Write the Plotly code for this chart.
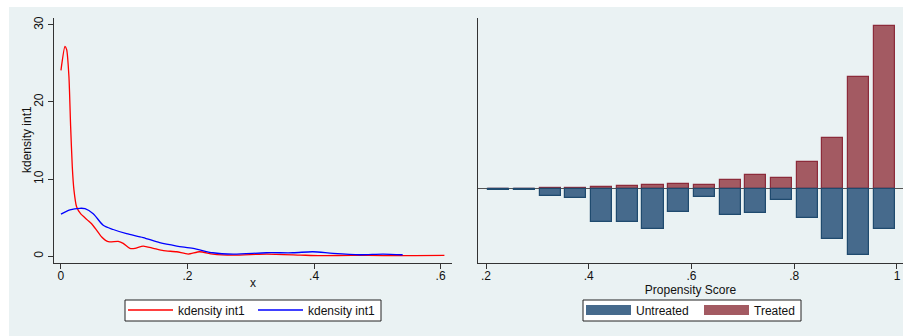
import plotly.graph_objects as go

# ---- Left panel: kernel density curves ----
red_x = [0.0, 0.0063, 0.009, 0.0126, 0.0153, 0.0179, 0.0205, 0.0247, 0.031, 0.0416, 0.0484,
         0.056, 0.064, 0.0747, 0.0905, 0.0984, 0.109, 0.117, 0.130, 0.146, 0.162, 0.183,
         0.201, 0.219, 0.24, 0.272, 0.325, 0.378, 0.41, 0.46, 0.51, 0.56, 0.606]
red_y = [24.1, 27.2, 26.8, 23.3, 16.8, 11.6, 8.6, 6.4, 5.5, 4.7, 4.2,
         3.4, 2.5, 1.86, 1.9, 1.65, 1.0, 1.0, 1.3, 1.0, 0.7, 0.56,
         0.26, 0.56, 0.26, 0.13, 0.26, 0.13, 0.05, 0.1, 0.05, 0.05, 0.1]

blue_x = [0.0, 0.0142, 0.03, 0.038, 0.051, 0.0668, 0.0826, 0.1037, 0.130, 0.156, 0.183,
          0.209, 0.24, 0.272, 0.325, 0.367, 0.398, 0.43, 0.472, 0.509, 0.54]
blue_y = [5.45, 6.0, 6.2, 6.15, 5.5, 4.0, 3.45, 2.9, 2.4, 1.73, 1.3,
          1.0, 0.43, 0.26, 0.43, 0.43, 0.56, 0.35, 0.17, 0.26, 0.17]

left_xticks = [0, 0.2, 0.4, 0.6]
left_xtick_labels = ["0", ".2", ".4", ".6"]
left_yticks = [0, 10, 20, 30]
left_ytick_labels = ["0", "10", "20", "30"]

# ---- Right panel: mirrored propensity score histogram ----
bin_centers = [0.225, 0.275, 0.325, 0.375, 0.425, 0.475, 0.525, 0.575,
               0.625, 0.675, 0.725, 0.775, 0.825, 0.875, 0.925, 0.975]
treated = [0.0, 0.0, 0.013, 0.013, 0.031, 0.05, 0.068, 0.087,
           0.068, 0.16, 0.252, 0.197, 0.49, 0.93, 2.07, 3.0]
untreated = [-0.018, -0.018, -0.12, -0.16, -0.60, -0.60, -0.74, -0.43,
             -0.14, -0.47, -0.45, -0.20, -0.53, -0.92, -1.22, -0.74]

right_xticks = [0.2, 0.4, 0.6, 0.8, 1.0]
right_xtick_labels = [".2", ".4", ".6", ".8", "1"]

W, H = 903, 336
FONT = "Liberation Sans, Arial, sans-serif"
BG = "#eaf2f3"
AX = "#333333"
TREAT_FILL = "#a35a62"
TREAT_LINE = "#8c2b3a"
UNTR_FILL = "#466a8c"
UNTR_LINE = "#1f4a6e"

def px_x(p):
    return p / W

def px_y(p):
    return 1 - p / H

fig = go.Figure()

fig.add_trace(go.Scatter(x=red_x, y=red_y, mode="lines", name="kdensity int1",
                         line=dict(color="#ff0000", width=1.3, shape="spline", smoothing=0.6),
                         xaxis="x", yaxis="y", legend="legend"))
fig.add_trace(go.Scatter(x=blue_x, y=blue_y, mode="lines", name="kdensity int1",
                         line=dict(color="#0000ff", width=1.3, shape="spline", smoothing=0.8),
                         xaxis="x", yaxis="y", legend="legend"))

fig.add_trace(go.Bar(x=bin_centers, y=treated, width=0.041, name="Treated",
                     marker=dict(color=TREAT_FILL, line=dict(color=TREAT_LINE, width=1.2)),
                     xaxis="x2", yaxis="y2", showlegend=False))
fig.add_trace(go.Bar(x=bin_centers, y=untreated, width=0.041, name="Untreated",
                     marker=dict(color=UNTR_FILL, line=dict(color=UNTR_LINE, width=1.2)),
                     xaxis="x2", yaxis="y2", showlegend=False))
# legend keys for bars (wide swatches)
fig.add_trace(go.Scatter(x=[None], y=[None], mode="lines", name="Untreated",
                         line=dict(color=UNTR_FILL, width=10),
                         xaxis="x2", yaxis="y2", legend="legend2"))
fig.add_trace(go.Scatter(x=[None], y=[None], mode="lines", name="Treated",
                         line=dict(color=TREAT_FILL, width=10),
                         xaxis="x2", yaxis="y2", legend="legend2"))

axis_common = dict(showline=True, linecolor=AX, linewidth=1, ticks="outside",
                   ticklen=5, tickcolor=AX, tickfont=dict(family=FONT, size=12, color="#111"),
                   zeroline=False, mirror=False, automargin=False)

legend_common = dict(orientation="h", xanchor="left", yanchor="top",
                     bgcolor="rgba(0,0,0,0)", borderwidth=0,
                     font=dict(family=FONT, size=12, color="#111"), itemwidth=45,
                     tracegroupgap=0)

fig.update_layout(
    width=W, height=H,
    margin=dict(l=0, r=0, t=0, b=0, autoexpand=False),
    paper_bgcolor="white",
    plot_bgcolor="white",
    font=dict(family=FONT, size=12, color="#111"),
    barmode="relative",
    bargap=0,
    xaxis=dict(domain=[px_x(54), px_x(452)], range=[-0.011, 0.618], anchor="y",
               tickvals=left_xticks, ticktext=left_xtick_labels, showgrid=False,
               ticklabelstandoff=-3, **axis_common),
    yaxis=dict(domain=[px_y(263), px_y(18)], range=[-0.9, 30.9], anchor="x",
               tickvals=left_yticks, ticktext=left_ytick_labels, tickangle=-90,
               showgrid=True, gridcolor=BG, gridwidth=1, **axis_common),
    xaxis2=dict(domain=[px_x(478), 1.0], range=[0.1844, 1.0117], anchor="y2",
                tickvals=right_xticks, ticktext=right_xtick_labels, showgrid=False,
                ticklabelstandoff=-3,
                title=dict(text="Propensity Score", font=dict(family=FONT, size=12), standoff=0),
                **axis_common),
    yaxis2=dict(domain=[px_y(263), px_y(18)], range=[-1.363, 3.149], anchor="x2",
                showline=True, linecolor=AX, linewidth=1, showticklabels=False,
                ticks="", showgrid=False, zeroline=True, zerolinecolor="#555555",
                zerolinewidth=1.3, automargin=False),
    legend=dict(x=px_x(123), y=px_y(295.5), entrywidth=70, **legend_common),
    legend2=dict(x=px_x(581), y=px_y(295.5), entrywidth=58, **legend_common),
    shapes=[
        dict(type="rect", xref="paper", yref="paper", x0=px_x(9), x1=1, y0=0, y1=px_y(7),
             fillcolor=BG, line=dict(width=0), layer="below"),
        dict(type="rect", xref="paper", yref="paper", x0=px_x(125), x1=px_x(381),
             y0=px_y(321), y1=px_y(300), fillcolor="white",
             line=dict(color="#222", width=1), layer="below"),
        dict(type="rect", xref="paper", yref="paper", x0=px_x(583), x1=px_x(801),
             y0=px_y(321), y1=px_y(300), fillcolor="white",
             line=dict(color="#222", width=1), layer="below"),
    ],
    annotations=[
        dict(text="x", xref="paper", yref="paper", x=px_x(253), y=px_y(283),
             xanchor="center", yanchor="middle", showarrow=False,
             font=dict(family=FONT, size=12, color="#111")),
        dict(text="kdensity int1", xref="paper", yref="paper", x=px_x(27), y=px_y(140),
             xanchor="center", yanchor="middle", textangle=-90, showarrow=False,
             font=dict(family=FONT, size=12, color="#111")),
    ],
)

fig.write_html("out.html", config={"displayModeBar": False},
               post_script="document.body.style.margin='0px';document.body.style.overflow='hidden';")
